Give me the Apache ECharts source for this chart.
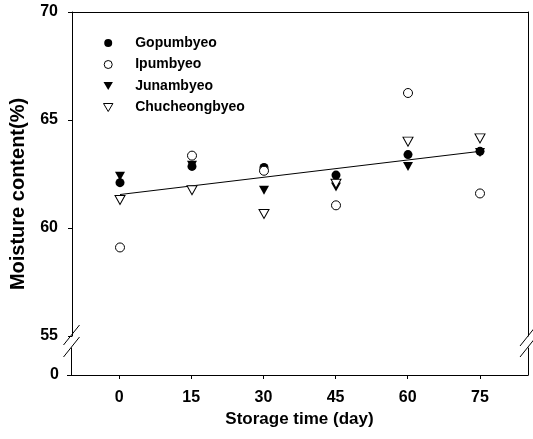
<!DOCTYPE html>
<html>
<head>
<meta charset="utf-8">
<script src="https://cdn.jsdelivr.net/npm/echarts/dist/echarts.min.js"></script>
<style>
	html, body { margin: 0; padding: 0; background: #fff; }
	#main { width: 533px; height: 439px; }
</style>
</head>
<body>
<div id="main"></div>
<script>
// storage days on x
var days = [0, 15, 30, 45, 60, 75];
// moisture content (%) for each cultivar
var gopum = [62.1, 62.85, 62.8, 62.45, 63.4, 63.55];
var ipum = [59.1, 63.35, 62.65, 61.05, 66.25, 61.6];
var junam = [62.4, 62.9, 61.75, 61.9, 62.85, 63.5];
var chucheong = [61.3, 61.75, 60.65, 62.05, 64.0, 64.15];
// regression line ends
var fitDays = [0, 75];
var fitValues = [61.55, 63.55];

var FONT = "'Liberation Sans', Arial, sans-serif";
var downTri = 'path://M0,0L20,0L10,17Z';

function pairs(xs, ys) {
	var out = [];
	for(var i = 0; i < xs.length; i++) {
		out.push([xs[i], ys[i]]);
	}
	return out;
}

function slash(cx, cy) {
	return {
		type: 'line',
		shape: { x1: cx - 8, y1: cy + 10, x2: cx + 8, y2: cy - 10 },
		style: { stroke: '#000', lineWidth: 1 }
	};
}

var myChart = echarts.init(document.getElementById('main'));
var lineSt = { color: '#000', width: 1 };
var labelSt = { color: '#000', fontFamily: FONT, fontWeight: 'bold', fontSize: 16 };

var option = {
	animation: false,
	backgroundColor: '#fff',
	grid: [
		{ left: 71, right: 5, top: 12, height: 324 },
		{ left: 71, right: 5, top: 348, height: 27 }
	],
	legend: {
		orient: 'vertical',
		left: 103,
		top: 36,
		padding: 0,
		itemWidth: 44,
		itemHeight: 8,
		itemGap: 7.5,
		selectedMode: false,
		itemStyle: { borderWidth: 1 },
		data: ['Gopumbyeo', 'Ipumbyeo', 'Junambyeo', 'Chucheongbyeo'],
		textStyle: { color: '#000', fontFamily: FONT, fontWeight: 'bold', fontSize: 14, lineHeight: 14 }
	},
	xAxis: [{
		gridIndex: 0,
		type: 'value',
		position: 'top',
		min: -10,
		max: 85,
		axisLine: { show: true, onZero: false, lineStyle: lineSt },
		axisTick: { show: false },
		axisLabel: { show: false },
		splitLine: { show: false }
	}, {
		gridIndex: 1,
		type: 'value',
		min: -10,
		max: 85,
		axisLine: { show: true, onZero: false, lineStyle: lineSt },
		axisTick: { show: true, length: 4, lineStyle: lineSt, customValues: days },
		axisLabel: Object.assign({ margin: 15, customValues: days }, labelSt),
		splitLine: { show: false },
		name: 'Storage time (day)',
		nameLocation: 'middle',
		nameGap: 36,
		nameTextStyle: { color: '#000', fontFamily: FONT, fontWeight: 'bold', fontSize: 17 }
	}],
	yAxis: [{
		gridIndex: 0,
		type: 'value',
		min: 55,
		max: 70,
		interval: 5,
		axisLine: { show: true, onZero: false, lineStyle: lineSt },
		axisTick: { show: true, length: 4, lineStyle: lineSt },
		axisLabel: Object.assign({ margin: 14 }, labelSt),
		splitLine: { show: false },
		name: 'Moisture content(%)',
		nameLocation: 'middle',
		nameGap: 44,
		nameTextStyle: { color: '#000', fontFamily: FONT, fontWeight: 'bold', fontSize: 20, padding: [0, 40, 0, 0] }
	}, {
		gridIndex: 0,
		type: 'value',
		position: 'right',
		min: 55,
		max: 70,
		axisLine: { show: true, onZero: false, lineStyle: lineSt },
		axisTick: { show: false },
		axisLabel: { show: false },
		splitLine: { show: false }
	}, {
		gridIndex: 1,
		type: 'value',
		min: 0,
		max: 1,
		axisLine: { show: true, onZero: false, lineStyle: lineSt },
		axisTick: { show: true, length: 4, lineStyle: lineSt, customValues: [0] },
		axisLabel: Object.assign({ margin: 12, customValues: [0] }, labelSt),
		splitLine: { show: false }
	}, {
		gridIndex: 1,
		type: 'value',
		position: 'right',
		min: 0,
		max: 1,
		axisLine: { show: true, onZero: false, lineStyle: lineSt },
		axisTick: { show: false },
		axisLabel: { show: false },
		splitLine: { show: false }
	}],
	graphic: [
		slash(71.5, 335), slash(71.5, 347),
		slash(528, 336), slash(528, 347)
	],
	series: [{
		name: 'Gopumbyeo',
		type: 'scatter',
		z: 3,
		symbol: 'circle',
		symbolSize: 9,
		itemStyle: { color: '#000', opacity: 1 },
		data: pairs(days, gopum)
	}, {
		name: 'Ipumbyeo',
		type: 'scatter',
		z: 4,
		symbol: 'circle',
		symbolSize: 9,
		itemStyle: { color: '#fff', borderColor: '#000', borderWidth: 1, opacity: 1 },
		data: pairs(days, ipum)
	}, {
		name: 'Junambyeo',
		type: 'scatter',
		z: 2,
		symbol: downTri,
		symbolSize: [10, 9],
		itemStyle: { color: '#000', opacity: 1 },
		data: pairs(days, junam)
	}, {
		name: 'Chucheongbyeo',
		type: 'scatter',
		z: 2,
		symbol: downTri,
		symbolSize: [10, 9],
		itemStyle: { color: '#fff', borderColor: '#000', borderWidth: 1, opacity: 1 },
		data: pairs(days, chucheong)
	}, {
		name: 'fit',
		type: 'line',
		z: 1,
		symbol: 'none',
		lineStyle: { color: '#000', width: 1 },
		data: pairs(fitDays, fitValues)
	}]
};
myChart.setOption(option);
</script>
</body>
</html>
